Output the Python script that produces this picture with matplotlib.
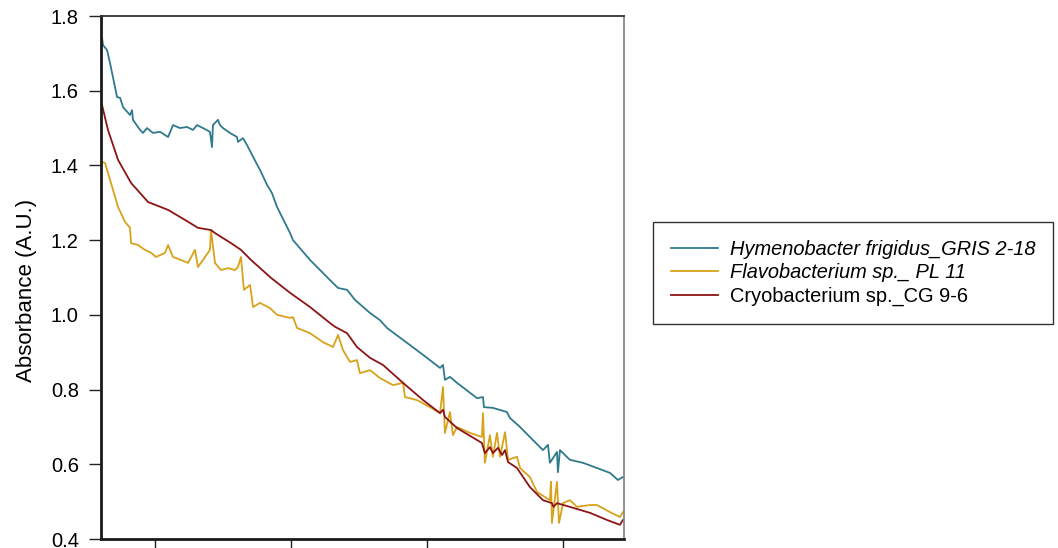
import matplotlib
matplotlib.use("Agg")
import numpy as np
from matplotlib import pyplot as plt

plt.rcParams["font.family"] = ["Liberation Sans", "DejaVu Sans"]

# wavelength (nm) / absorbance (A.U.)
hym_wl = [261.0, 261.8, 264.7, 266.9, 272.1, 274.3, 276.5, 281.6, 283.1, 283.8,
          289.0, 291.2, 294.1, 298.5, 303.7, 309.6, 313.2, 318.4, 323.5, 327.9,
          330.9, 335.3, 340.4, 341.9, 342.6, 346.3, 347.8, 350.0, 355.1, 360.3,
          361.0, 364.7, 367.6, 372.1, 377.2, 382.4, 386.0, 389.7, 399.3, 401.5,
          414.0, 428.7, 434.6, 441.2, 447.1, 458.1, 465.4, 470.6, 482.4, 497.1,
          509.6, 511.8, 513.2, 516.9, 522.1, 536.8, 541.2, 541.9, 548.5, 558.8,
          561.0, 568.4, 575.7, 585.3, 589.0, 590.4, 595.6, 596.3, 597.8, 605.1,
          614.7, 625.0, 634.6, 640.4, 644.1]
hym_abs = [1.741, 1.722, 1.709, 1.674, 1.583, 1.581, 1.556, 1.535, 1.548, 1.522,
           1.495, 1.487, 1.500, 1.487, 1.490, 1.476, 1.508, 1.500, 1.503, 1.495,
           1.508, 1.500, 1.490, 1.449, 1.508, 1.522, 1.508, 1.500, 1.487, 1.476,
           1.463, 1.473, 1.455, 1.423, 1.388, 1.348, 1.326, 1.289, 1.219, 1.200,
           1.147, 1.093, 1.072, 1.067, 1.040, 1.005, 0.986, 0.965, 0.933, 0.893,
           0.858, 0.866, 0.826, 0.834, 0.818, 0.777, 0.780, 0.753, 0.751, 0.740,
           0.724, 0.700, 0.673, 0.638, 0.652, 0.604, 0.633, 0.579, 0.638, 0.612,
           0.604, 0.590, 0.577, 0.558, 0.566]

flavo_wl = [261.0, 263.2, 267.6, 272.8, 277.9, 281.6, 282.4, 287.5, 292.6, 297.1,
            300.7, 307.4, 309.6, 313.2, 319.1, 324.3, 329.4, 331.6, 336.8, 340.4,
            341.2, 344.1, 348.5, 353.7, 358.8, 361.0, 363.2, 365.4, 369.9, 372.1,
            377.2, 384.6, 389.7, 399.3, 401.5, 404.4, 414.0, 423.5, 430.9, 434.6,
            438.2, 443.4, 448.5, 450.7, 458.1, 465.4, 475.0, 482.4, 483.8, 492.6,
            502.2, 509.6, 511.8, 513.2, 516.9, 519.1, 522.1, 531.6, 540.4, 541.2,
            542.6, 546.3, 548.5, 551.5, 553.7, 557.4, 559.6, 566.2, 568.4, 575.7,
            580.9, 590.4, 591.2, 591.9, 595.6, 597.1, 600.0, 605.1, 610.3, 619.9,
            625.0, 634.6, 641.9, 644.1]
flavo_abs = [1.409, 1.407, 1.353, 1.289, 1.249, 1.233, 1.192, 1.187, 1.174, 1.166,
             1.155, 1.166, 1.187, 1.155, 1.147, 1.139, 1.174, 1.128, 1.155, 1.174,
             1.227, 1.139, 1.120, 1.125, 1.120, 1.128, 1.155, 1.067, 1.080, 1.021,
             1.032, 1.018, 1.000, 0.992, 0.994, 0.965, 0.951, 0.927, 0.914, 0.946,
             0.906, 0.874, 0.879, 0.844, 0.852, 0.831, 0.812, 0.818, 0.780, 0.772,
             0.753, 0.737, 0.807, 0.684, 0.740, 0.678, 0.700, 0.684, 0.673, 0.737,
             0.604, 0.678, 0.620, 0.684, 0.620, 0.686, 0.612, 0.620, 0.590, 0.566,
             0.526, 0.504, 0.553, 0.443, 0.553, 0.443, 0.496, 0.504, 0.486, 0.491,
             0.491, 0.472, 0.459, 0.472]

cryo_wl = [261.0, 265.4, 272.8, 282.4, 294.9, 309.6, 322.1, 331.6, 341.2, 344.1,
           355.9, 363.2, 370.6, 385.3, 399.3, 414.0, 428.7, 432.4, 441.2, 448.5,
           458.1, 467.6, 482.4, 497.1, 509.6, 511.8, 513.2, 522.1, 536.8, 540.4,
           542.6, 546.3, 548.5, 552.2, 555.2, 557.4, 559.6, 566.2, 575.7, 585.3,
           591.9, 593.0, 595.6, 605.1, 619.9, 632.4, 641.9, 644.1]
cryo_abs = [1.562, 1.495, 1.415, 1.353, 1.302, 1.281, 1.254, 1.233, 1.227, 1.219,
            1.192, 1.174, 1.147, 1.099, 1.059, 1.021, 0.978, 0.968, 0.951, 0.914,
            0.885, 0.866, 0.818, 0.772, 0.737, 0.746, 0.727, 0.697, 0.665, 0.657,
            0.630, 0.646, 0.630, 0.644, 0.625, 0.638, 0.606, 0.590, 0.539, 0.504,
            0.496, 0.486, 0.496, 0.486, 0.470, 0.451, 0.438, 0.451]

labels = ["Hymenobacter frigidus_GRIS 2-18", "Flavobacterium sp._ PL 11",
          "Cryobacterium sp._CG 9-6"]
colors = ["#2f7a8c", "#d8a21a", "#8c1414"]


def draw_plot():
    fig = plt.figure(figsize=(10.58, 5.48), dpi=100)
    ax = fig.add_axes([0.0955, 0.0164, 0.4943, 0.9544])
    series = [(hym_wl, hym_abs), (flavo_wl, flavo_abs), (cryo_wl, cryo_abs)]
    for (x, y), lab, c in zip(series, labels, colors):
        ax.plot(x, y, color=c, lw=1.3, label=lab)

    ax.set_xlim(260.3, 644.9)
    ax.set_ylim(0.4, 1.8)
    ax.set_xticks([300, 400, 500, 600])
    ax.set_xticklabels([])
    yt = np.arange(0.4, 1.81, 0.2)
    ax.set_yticks(yt)
    ax.set_yticklabels([f"{v:.1f}" for v in yt], fontsize=14.5)
    ax.tick_params(axis="y", direction="out", length=9, width=1.0, pad=7, color="#222222")
    ax.tick_params(axis="x", direction="out", length=8, width=1.0, color="#222222")
    ax.set_ylabel("Absorbance (A.U.)", fontsize=16)
    ax.yaxis.set_label_coords(-0.122, 0.476)

    ax.spines["left"].set_linewidth(2.0)
    ax.spines["left"].set_color("#1a1a1a")
    ax.spines["bottom"].set_linewidth(2.0)
    ax.spines["bottom"].set_color("#1a1a1a")
    ax.spines["top"].set_linewidth(1.3)
    ax.spines["top"].set_color("#333333")
    ax.spines["right"].set_linewidth(1.3)
    ax.spines["right"].set_color("#888888")

    leg = fig.legend(loc="upper left", bbox_to_anchor=(0.6172, 0.595), fontsize=14.4,
                     frameon=True, fancybox=False, edgecolor="black",
                     handlelength=2.35, handletextpad=0.6, labelspacing=0.215,
                     borderpad=0.9, borderaxespad=0)
    leg.get_frame().set_linewidth(1.0)
    for t in leg.get_texts()[:2]:
        t.set_fontstyle("italic")
    for h in leg.get_lines():
        h.set_linewidth(1.3)
    return fig


if __name__ == "__main__":
    fig = draw_plot()
    fig.savefig("out.png", dpi=100)
